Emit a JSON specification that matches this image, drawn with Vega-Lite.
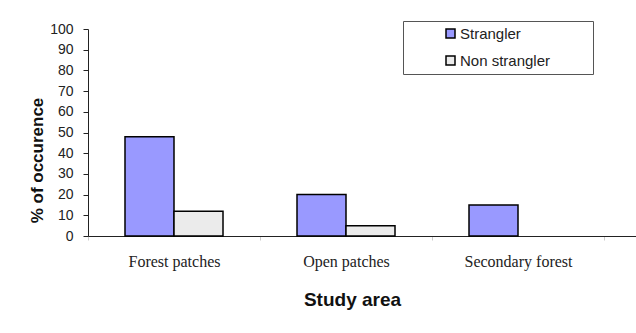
{
  "$schema": "https://vega.github.io/schema/vega-lite/v6.json",
  "width": 548,
  "height": 207,
  "autosize": "none",
  "padding": {"left": 88, "top": 29, "right": 0, "bottom": 97},
  "background": "white",
  "data": {
    "values": [
      {"area": "Forest patches", "type": "Strangler", "pct": 48},
      {"area": "Forest patches", "type": "Non strangler", "pct": 12},
      {"area": "Open patches", "type": "Strangler", "pct": 20},
      {"area": "Open patches", "type": "Non strangler", "pct": 5},
      {"area": "Secondary forest", "type": "Strangler", "pct": 15}
    ]
  },
  "mark": {"type": "bar", "stroke": "black", "strokeWidth": 1.5},
  "encoding": {
    "x": {
      "field": "area",
      "type": "nominal",
      "sort": ["Forest patches", "Open patches", "Secondary forest"],
      "scale": {"paddingInner": 0, "paddingOuter": 0.093, "align": 0},
      "axis": {
        "title": "Study area",
        "labelAngle": 0,
        "labelFont": "Liberation Serif",
        "labelFontSize": 16,
        "labelColor": "#222",
        "labelPadding": 13,
        "tickSize": 4,
        "tickColor": "#ccc",
        "tickBand": "extent",
        "domainColor": "#222",
        "domainWidth": 1,
        "titleFont": "Liberation Sans",
        "titleFontSize": 19,
        "titleFontWeight": "bold",
        "titleColor": "#111",
        "titleX": 264,
        "titleY": 63,
        "titleBaseline": "middle",
        "titleAlign": "center"
      }
    },
    "xOffset": {
      "field": "type",
      "type": "nominal",
      "sort": ["Strangler", "Non strangler"],
      "scale": {"domain": ["Strangler", "Non strangler"], "paddingInner": 0, "paddingOuter": 0.755}
    },
    "y": {
      "field": "pct",
      "type": "quantitative",
      "scale": {"domain": [0, 100], "nice": false},
      "axis": {
        "title": "% of occurence",
        "values": [0, 10, 20, 30, 40, 50, 60, 70, 80, 90, 100],
        "grid": false,
        "labelFont": "Liberation Sans",
        "labelFontSize": 14,
        "labelColor": "#222",
        "labelPadding": 10,
        "tickSize": 5,
        "tickColor": "#222",
        "domainColor": "#222",
        "titleFont": "Liberation Sans",
        "titleFontSize": 17,
        "titleFontWeight": "bold",
        "titleColor": "#111",
        "titleAngle": 270,
        "titleX": -51,
        "titleY": 131,
        "titleBaseline": "middle",
        "titleAlign": "center"
      }
    },
    "fill": {
      "field": "type",
      "type": "nominal",
      "sort": ["Strangler", "Non strangler"],
      "scale": {"domain": ["Strangler", "Non strangler"], "range": ["#9999FF", "#EBEBEB"]},
      "legend": {
        "orient": "none",
        "legendX": 315,
        "legendY": -8,
        "title": " ",
        "titleOrient": "right",
        "titlePadding": 38,
        "titleFontSize": 8,
        "padding": 5,
        "symbolType": "square",
        "symbolSize": 81,
        "symbolStrokeColor": "black",
        "symbolStrokeWidth": 1.5,
        "symbolOffset": 35,
        "labelOffset": 2,
        "labelFont": "Liberation Sans",
        "labelFontSize": 15,
        "labelColor": "#222",
        "rowPadding": 11,
        "strokeColor": "#555",
        "fillColor": "white"
      }
    }
  },
  "config": {"view": {"stroke": null}}
}
